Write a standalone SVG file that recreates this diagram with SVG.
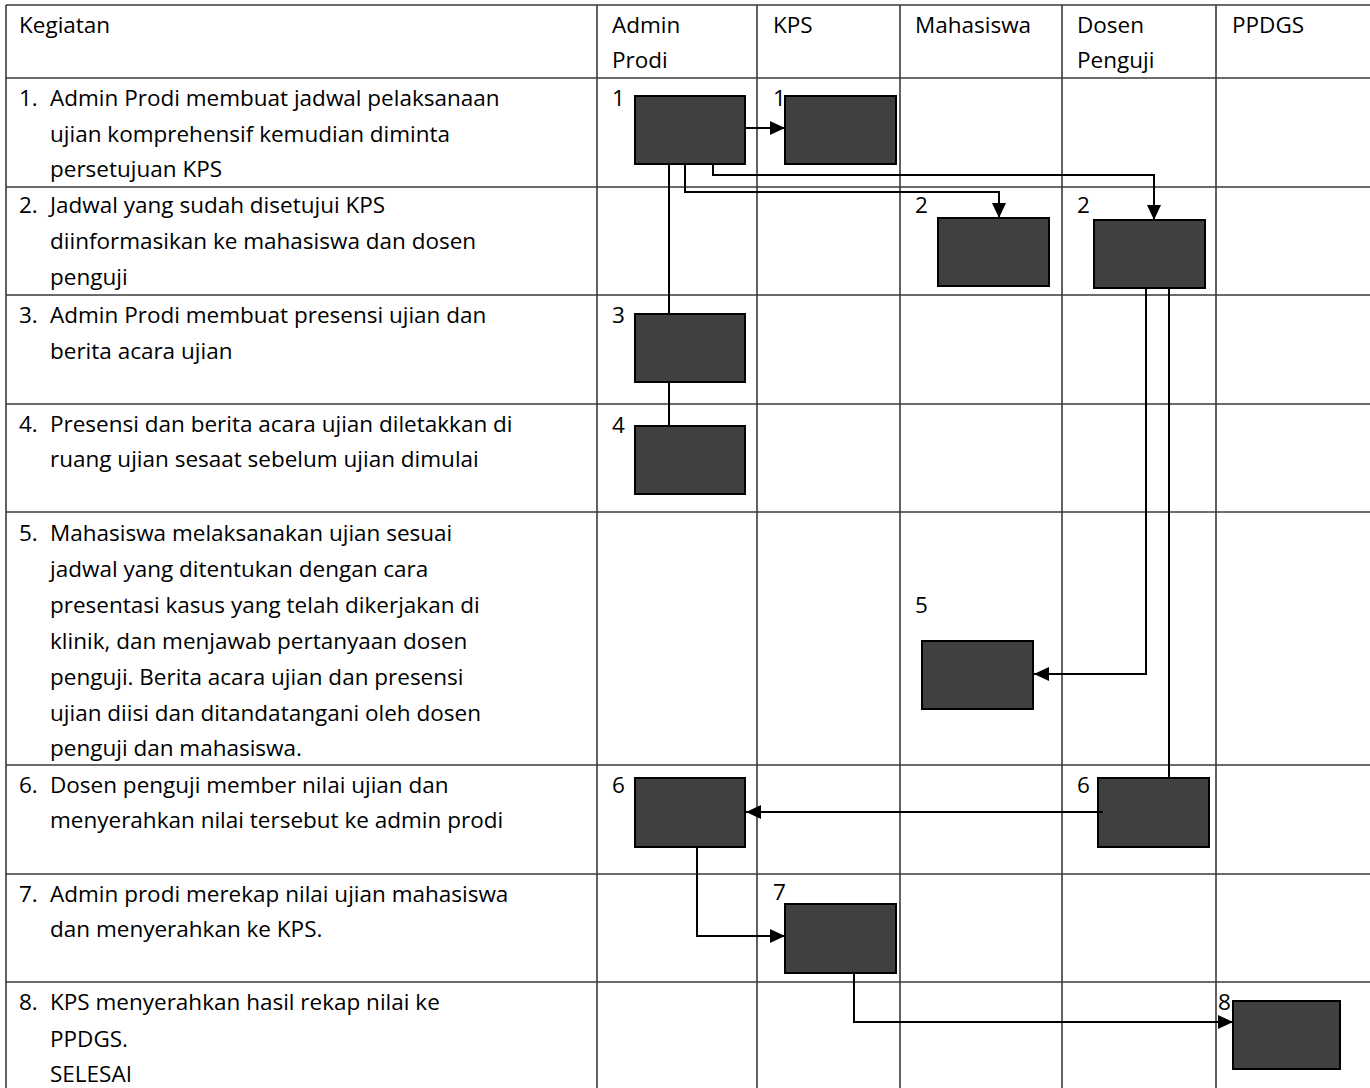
<svg xmlns="http://www.w3.org/2000/svg" width="1370" height="1088" viewBox="0 0 1370 1088">
<defs>
<style>
.grid line{stroke:#3a3a3a;stroke-width:1.6}
.t{font-family:"Open Sans","Noto Sans","Liberation Sans",sans-serif;font-size:22.5px;fill:#000}
.box{fill:#404040;stroke:#000;stroke-width:2}
.con path{fill:none;stroke:#000;stroke-width:2}
</style>
<marker id="ah" markerUnits="userSpaceOnUse" markerWidth="16" markerHeight="16" viewBox="0 0 16 16" refX="15" refY="8" orient="auto">
<path d="M0,1 L15,8 L0,15 Z" fill="#000"/>
</marker>
</defs>
<rect width="1370" height="1088" fill="#fff"/>
<g class="grid">
<line x1="6" y1="5" x2="1370" y2="5"/>
<line x1="6" y1="78" x2="1370" y2="78"/>
<line x1="6" y1="187" x2="1370" y2="187"/>
<line x1="6" y1="295" x2="1370" y2="295"/>
<line x1="6" y1="404" x2="1370" y2="404"/>
<line x1="6" y1="512" x2="1370" y2="512"/>
<line x1="6" y1="765" x2="1370" y2="765"/>
<line x1="6" y1="874" x2="1370" y2="874"/>
<line x1="6" y1="982" x2="1370" y2="982"/>
<line x1="6" y1="5" x2="6" y2="1088"/>
<line x1="597" y1="5" x2="597" y2="1088"/>
<line x1="757" y1="5" x2="757" y2="1088"/>
<line x1="900" y1="5" x2="900" y2="1088"/>
<line x1="1062" y1="5" x2="1062" y2="1088"/>
<line x1="1216" y1="5" x2="1216" y2="1088"/>
</g>
<g id="headers" class="t">
<text x="19" y="33">Kegiatan</text>
<text x="612" y="33">Admin</text>
<text x="612" y="68">Prodi</text>
<text x="773" y="33">KPS</text>
<text x="915" y="33">Mahasiswa</text>
<text x="1077" y="33">Dosen</text>
<text x="1077" y="68">Penguji</text>
<text x="1232" y="33">PPDGS</text>
</g>
<g id="kegiatan" class="t">
<text x="19" y="106">1.</text>
<text x="50" y="106">Admin Prodi membuat jadwal pelaksanaan</text>
<text x="50" y="142">ujian komprehensif kemudian diminta</text>
<text x="50" y="177">persetujuan KPS</text>
<text x="19" y="213">2.</text>
<text x="50" y="213">Jadwal yang sudah disetujui KPS</text>
<text x="50" y="249">diinformasikan ke mahasiswa dan dosen</text>
<text x="50" y="285">penguji</text>
<text x="19" y="323">3.</text>
<text x="50" y="323">Admin Prodi membuat presensi ujian dan</text>
<text x="50" y="359">berita acara ujian</text>
<text x="19" y="432">4.</text>
<text x="50" y="432">Presensi dan berita acara ujian diletakkan di</text>
<text x="50" y="467">ruang ujian sesaat sebelum ujian dimulai</text>
<text x="19" y="541">5.</text>
<text x="50" y="541">Mahasiswa melaksanakan ujian sesuai</text>
<text x="50" y="577">jadwal yang ditentukan dengan cara</text>
<text x="50" y="613">presentasi kasus yang telah dikerjakan di</text>
<text x="50" y="649">klinik, dan menjawab pertanyaan dosen</text>
<text x="50" y="685">penguji. Berita acara ujian dan presensi</text>
<text x="50" y="721">ujian diisi dan ditandatangani oleh dosen</text>
<text x="50" y="756">penguji dan mahasiswa.</text>
<text x="19" y="793">6.</text>
<text x="50" y="793">Dosen penguji member nilai ujian dan</text>
<text x="50" y="828">menyerahkan nilai tersebut ke admin prodi</text>
<text x="19" y="902">7.</text>
<text x="50" y="902">Admin prodi merekap nilai ujian mahasiswa</text>
<text x="50" y="937">dan menyerahkan ke KPS.</text>
<text x="19" y="1010">8.</text>
<text x="50" y="1010">KPS menyerahkan hasil rekap nilai ke</text>
<text x="50" y="1047">PPDGS.</text>
<text x="50" y="1082">SELESAI</text>
</g>
<g class="con" id="connectors">
<path d="M669,164 V314"/>
<path d="M685,164 V192 H999 V218" marker-end="url(#ah)"/>
<path d="M713,164 V175 H1154 V220" marker-end="url(#ah)"/>
<path d="M669,382 V426"/>
<path d="M1146,288 V674 H1034" marker-end="url(#ah)"/>
<path d="M1169,288 V778"/>
<path d="M854,973 V1022 H1233" marker-end="url(#ah)"/>
<path d="M697,847 V936 H785" marker-end="url(#ah)"/>
<path d="M745,128 H785" marker-end="url(#ah)"/>
</g>
<g id="n1a"><rect class="box" x="635" y="96" width="110" height="68"/><text class="t" x="612" y="106">1</text></g>
<g id="n1b"><rect class="box" x="785" y="96" width="111" height="68"/><text class="t" x="773" y="106">1</text></g>
<g id="n2a"><rect class="box" x="938" y="218" width="111" height="68"/><text class="t" x="915" y="213">2</text></g>
<g id="n2b"><rect class="box" x="1094" y="220" width="111" height="68"/><text class="t" x="1077" y="213">2</text></g>
<g id="n3"><rect class="box" x="635" y="314" width="110" height="68"/><text class="t" x="612" y="323">3</text></g>
<g id="n4"><rect class="box" x="635" y="426" width="110" height="68"/><text class="t" x="612" y="433">4</text></g>
<g id="n5"><rect class="box" x="922" y="641" width="111" height="68"/><text class="t" x="915" y="613">5</text></g>
<g id="n6a"><rect class="box" x="635" y="778" width="110" height="69"/><text class="t" x="612" y="793">6</text></g>
<g id="n6b"><rect class="box" x="1098" y="778" width="111" height="69"/><text class="t" x="1077" y="793">6</text></g>
<g id="n7"><rect class="box" x="785" y="904" width="111" height="69"/><text class="t" x="773" y="900">7</text></g>
<g id="n8"><rect class="box" x="1233" y="1001" width="107" height="68"/><text class="t" x="1218" y="1010">8</text></g>
<g class="con"><path d="M1103,812 H746" marker-end="url(#ah)"/></g>
</svg>
